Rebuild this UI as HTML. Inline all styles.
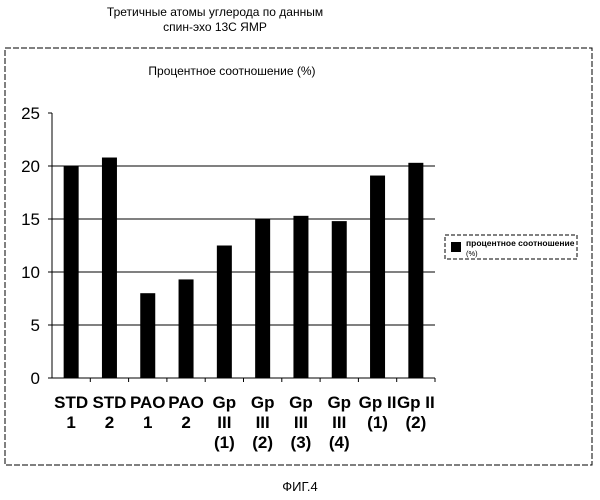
<!DOCTYPE html>
<html><head><meta charset="utf-8"><style>
body{margin:0;background:#fff;}
svg{display:block;font-family:"Liberation Sans",Arial,sans-serif;}
</style></head><body>
<svg width="600" height="500" viewBox="0 0 600 500">
<text x="215" y="16" text-anchor="middle" font-size="12">Третичные атомы углерода по данным</text>
<text x="215" y="31" text-anchor="middle" font-size="12">спин-эхо 13С ЯМР</text>
<rect x="5" y="48" width="587" height="417" fill="none" stroke="#000" stroke-dasharray="6,2"/>
<text x="232" y="75" text-anchor="middle" font-size="12">Процентное соотношение (%)</text>
<g id="plot"></g>
<rect x="445" y="235" width="132" height="24" fill="none" stroke="#000" stroke-dasharray="4,2"/>
<rect x="451" y="242" width="10" height="10" fill="#000"/>
<text x="466" y="246" font-size="8.5" font-weight="bold">процентное соотношение</text>
<text x="466" y="256" font-size="7.5">(%)</text>
<text x="300" y="491" text-anchor="middle" font-size="13">ФИГ.4</text>
</svg>
<script>
const categories=[["STD","1"],["STD","2"],["PAO","1"],["PAO","2"],["Gp","III","(1)"],["Gp","III","(2)"],["Gp","III","(3)"],["Gp","III","(4)"],["Gp II","(1)"],["Gp II","(2)"]];
const values=[20,20.8,8,9.3,12.5,15,15.3,14.8,19.1,20.3];
const yTicks=[0,5,10,15,20,25];
const NS="http://www.w3.org/2000/svg";
const g=document.getElementById("plot");
const x0=52,x1=435,y0=378,yTop=113,yMax=25;
const bw=(x1-x0)/categories.length;
function y(v){return y0-(v/yMax)*(y0-yTop);}
function xc(i){return x0+bw*(i+0.5);}
function mk(t,a){const e=document.createElementNS(NS,t);for(const k in a)e.setAttribute(k,a[k]);g.appendChild(e);return e;}
yTicks.forEach(t=>{
 if(t>0&&t<yMax){const l=mk("line",{x1:x0,x2:x1,y1:y(t),y2:y(t),stroke:"#000","stroke-width":1});
 
 }
 const tk=mk("line",{x1:x0-4,x2:x0,y1:y(t),y2:y(t),stroke:"#000"});
 
 
 const tx=mk("text",{x:x0-12,y:y(t)+6,"text-anchor":"end","font-size":17});
 tx.textContent=t;
 
 
});
const ax=mk("line",{x1:x0,x2:x0,y1:yTop,y2:y0,stroke:"#000"});


const bx=mk("line",{x1:x0,x2:x1,y1:y0,y2:y0,stroke:"#000"});


categories.forEach((c,i)=>{
 const tk=mk("line",{x1:x0+bw*(i+1),x2:x0+bw*(i+1),y1:y0,y2:y0+4,stroke:"#000"});
 
 
 const r=mk("rect",{x:xc(i)-7.5,y:y(values[i]),width:15,height:y0-y(values[i]),fill:"#000"});
 
 
 c.forEach((s,j)=>{
  const t=mk("text",{x:xc(i),y:408+j*20,"text-anchor":"middle","font-size":17,"font-weight":"bold"});
  t.textContent=s;
  
  
 });
});
</script>
</body></html>
